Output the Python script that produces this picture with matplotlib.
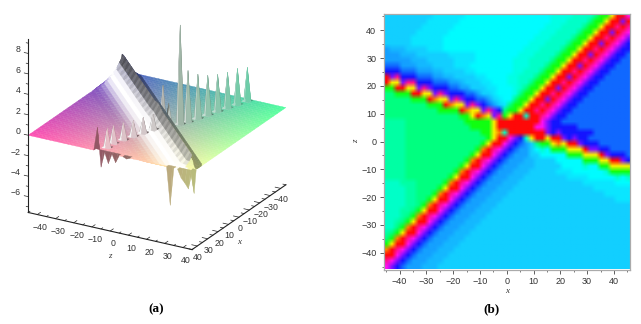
import numpy as np
import matplotlib
matplotlib.use('Agg')
import matplotlib.pyplot as plt
from mpl_toolkits.mplot3d import proj3d
from mpl_toolkits.mplot3d.art3d import Poly3DCollection

# %% panel b: one letter per cell, z = 45 on the first row, x = -45 in the first column
band = 'gyrrmuvb'
beads = 'gorpmuvb'
up = 'nggyrrurpmuvv'
up2 = 'nggyrrprpmuvv'
fall = 'eeehhh'
density_rows = [
    'd'*9 + 'f'*6 + 'c'*16 + 'w'*4 + 't'*4 + 'nggyrrm',
    'd'*8 + 'f'*6 + 'c'*17 + 'www' + 'tttt' + up[:8],
    'd'*7 + 'f'*6 + 'c'*17 + 'www' + 'tttt' + up2[:9],
    'd'*6 + 'f'*6 + 'c'*17 + 'www' + 'tttt' + up[:10],
    'd'*5 + 'f'*6 + 'c'*17 + 'www' + 'tttt' + up2[:11],
    'd'*5 + 'f'*6 + 'c'*16 + 'www' + 'tttt' + up[:12],
    'e' + 'hhh' + 'dddd' + 'fff' + 'c'*15 + 'www' + 'tttt' + up2,
    'eee' + 'hhh' + 'd'*6 + 'f'*5 + 'c'*8 + 'www' + 'tttt' + up + 'b',
    'eeeee' + 'hhh' + 'd'*5 + 'ffff' + 'c'*7 + 'www' + 'tttt' + up2 + 'bb',
    'bbb' + 'eee' + 'hhh' + 'dddd' + 'fff' + 'c'*8 + 'www' + 'ttt' + up + 'b'*3,
    'vvvbbb' + 'eee' + 'hh' + 'dddd' + 'ff' + 'c'*7 + 'ww' + 'ttt' + up2 + 'b'*4,
    'rupvvvbbb' + 'ee' + 'hh' + 'dddd' + 'ff' + 'cccc' + 'ww' + 'ttt' + up + 'b'*5,
    'ryyuppvvvbbb' + 'ee' + 'h' + 'ddd' + 'ff' + 'ccc' + 'ww' + 'tt' + up2 + 'b'*6,
    'ggrryyupuvvvbb' + 'ee' + 'ddd' + 'ff' + 'ccc' + 'w' + 't' + up + 'b'*7,
    'nngggrryyupuvvvbb' + 'e' + 'dd' + 'f' + 'ccc' + 'w' + up2 + 'b'*8,
    'nnnnngggroyyupuvvbbedfcc' + up + 'b'*9,
    'nnnnnnnngggroyyupuvbedf' + up2 + 'b'*10,
    'nnnnnnnnnnggggroyyupuv' + 'nggyrrprpmuvv' + 'b'*11,
    'n'*14 + 'ggyroyup' + 'gyrrtrrpmuvv' + 'b'*12,
    'ssss' + 'n'*11 + 'g'*5 + 'yr' + 'r'*7 + 'muvv' + 'b'*13,
    'ssss' + 'n'*12 + 'gggg' + 'y' + 'r'*7 + 'mmu' + 'vvvvv' + 'b'*10,
    'ssss' + 'n'*14 + 'gg' + 'yo' + 't' + 'r'*7 + 'u' + 'vuvvvvvv' + 'b'*7,
    'ssss' + 'n'*15 + 'gyrrmuv' + 'tyrryrruvuvv' + 'b'*8,
    'ssss' + 'n'*14 + 'gyrrmuvb' + 'ednggyoyrruvvv' + 'b'*6,
    'ssss' + 'n'*13 + 'gorpmuvb' + 'eedctc' + 'ggg' + 'yyy' + 'ruu' + 'vv' + 'b'*4,
    'ssss' + 'n'*12 + band + 'eeedd' + 'c'*5 + 'ggg' + 'yyy' + 'ruvvvb',
    'ssss' + 'n'*11 + beads + 'eeehh' + 'dddd' + 'c'*5 + 'ggg' + 'yy' + 'rruv',
    'ssss' + 'n'*10 + band + fall + 'd'*5 + 'cccc' + 'tcc' + 'gg' + 'yyyy',
    'ssss' + 'n'*9 + beads + fall + 'd'*5 + 'fff' + 'c'*6 + 't' + 'gggg',
    'ssss' + 'n'*8 + band + fall + 'd'*8 + 'ffff' + 'c'*5 + 'tct',
    'ttt' + 'sss' + 'n'*5 + beads + fall + 'd'*12 + 'f'*6 + 'ccc',
    'tttt' + 'ss' + 'nnnn' + band + fall + 'd'*15 + 'f'*7,
    'tttt' + 'ss' + 'nnn' + beads + fall + 'd'*18 + 'f'*5,
    'tttt' + 'ss' + 'nn' + band + fall + 'd'*21 + 'f'*3,
    'tttt' + 'ss' + 'n' + beads + fall + 'd'*25,
    'ttt' + 'ss' + 'n' + band + fall + 'd'*26,
    'ttt' + 's' + 'n' + beads + fall + 'd'*27,
    'tt' + 's' + 'n' + band + fall + 'd'*28,
    'tt' + 'n' + beads + fall + 'd'*29,
    'sn' + band + fall + 'd'*30,
    'n' + beads + fall + 'd'*31,
    band + fall + 'd'*32,
    beads[1:] + fall + 'd'*33,
    band[2:] + fall + 'd'*34,
    beads[3:] + fall + 'd'*35,
    band[4:] + fall + 'd'*36,
]
density_colours = {'c': '#00fcff', 'f': '#0ae6ff', 'd': '#12cfff', 'h': '#14b8ff',
                   'e': '#14a0ff', 'b': '#1068ff', 'v': '#1414ff', 'u': '#8010ff',
                   'm': '#ff10f0', 'p': '#ff1090', 'r': '#ff0808', 'o': '#ff8000',
                   'y': '#f8f000', 'g': '#10ff10', 'n': '#00ff80', 's': '#00ffa4',
                   't': '#00ffc8', 'w': '#00ffe4'}

# %% panel a: heights
ridge_height = [1.6, 1.7, 1.7, 1.7, 1.7, 1.7, 1.7, 1.7, 1.7, 1.7, 1.7, 1.7,
                1.7, 1.7, 1.7, 1.7, 1.7, 1.7, 1.7, 1.7, 1.7, 1.7, 1.8, 1.9,
                1.9, 1.8, 1.7, 1.7, 1.7, 1.7, 1.7, 1.7, 1.7, 1.7, 1.7, 1.7,
                1.7, 1.7, 1.7, 1.7, 1.7, 1.7, 1.7, 1.7, 1.7, 1.7]
ridge_offset = [-5, -4, -3, -2, -1, 0, 1.5, 3, 4.5, 6, 7.5, 9, 10.5, 12, 13.5, 15]
ridge_shape = [0, 0.04, 0.12, 0.3, 0.6, 1.0, 0.62, 0.38, 0.24, 0.15, 0.09, 0.055, 0.03,
               0.015, 0.005, 0]
# how white each strip of the ridge's near face is, crest to foot
ridge_tone = [-0.35, -0.78, 0.92, 1.0, 0.85, 0.6, 0.3, 0.1, 0.0, 0.0]
spike_x = [-43, -37, -31, -25, -19, -13, -7, -3, 3, 1, 9, 15, 21, 27, 33, 39, 45,
           45, 45, 45, 45, 45, 45, 45, 45, 43]
spike_z = [25, 23, 21, 19, 17, 15, 13, 11, 5, 7, 3, 1, -1, -3, -5, -5, -7,
           -5, -1, 3, 9, 33, 39, 41, 43, 45]
spike_h = [3.26, 3.5, 3.47, 3.6, 3.85, 4.3, 5.0, 9.65, 3.95, 2.1, 1.45, 1.5, 1.54,
           1.69, 1.74, 1.87, 2.3, -1.5, -1.0, -0.75, -0.15, -3.7, -0.8, -1.2, -1.7, -2.2]

z_ticks = [-40, -30, -20, -10, 0, 10, 20, 30, 40]
x_ticks = [-40, -30, -20, -10, 0, 10, 20, 30, 40]
h_ticks = [-6, -4, -2, 0, 2, 4, 6, 8]

H_MIN, H_MAX = -7.55, 9.4
ELEV, AZIM = 23.3, 29.8


def sheet_colour(xc, zc):
    # colour of the sheet, running between its four corners
    back = np.array([0.33, 0.35, 0.78])
    left = np.array([1.0, 0.30, 0.70])
    right = np.array([0.30, 1.0, 0.62])
    front = np.array([1.0, 1.0, 0.66])
    a = ((np.asarray(xc) + 45) / 90)[..., None]
    b = ((np.asarray(zc) + 45) / 90)[..., None]
    return (1-a)*(1-b)*back + a*(1-b)*left + (1-a)*b*right + a*b*front


def surface_colours(X, Z, H):
    xc = (X[:-1, :-1] + X[1:, 1:]) / 2
    zc = (Z[:-1, :-1] + Z[1:, 1:]) / 2
    base = sheet_colour(xc, zc)
    sx, sz, sh = 1/90, 1/90, 1/(H_MAX - H_MIN)
    d1 = np.stack([(X[1:, 1:]-X[:-1, :-1])*sx, (Z[1:, 1:]-Z[:-1, :-1])*sz,
                   (H[1:, 1:]-H[:-1, :-1])*sh], axis=-1)
    d2 = np.stack([(X[1:, :-1]-X[:-1, 1:])*sx, (Z[1:, :-1]-Z[:-1, 1:])*sz,
                   (H[1:, :-1]-H[:-1, 1:])*sh], axis=-1)
    n = np.cross(d2, d1)
    n = n * np.sign(n[..., 2:3] + 1e-12)
    n = n / np.linalg.norm(n, axis=-1, keepdims=True)

    e, az = np.radians(ELEV), np.radians(AZIM)
    view = np.array([np.cos(e)*np.cos(az), np.cos(e)*np.sin(az), np.sin(e)])
    lit = (n @ np.array([0.45, -0.25, 0.857]))
    corners = np.stack([H[:-1, :-1], H[1:, :-1], H[:-1, 1:], H[1:, 1:]])
    rgb = base.copy()

    # spike faces: the side towards the light goes white, more so on the x > 0 half
    spiky = np.abs(corners).max(axis=0) > 0
    a = (xc + 45) / 90
    side = np.clip((lit * 1.6 - 0.25) * (0.55 + 0.75 * a), 0, 1)[..., None]
    side_rgb = (base * 0.8 + 0.1) * (1 - side) + 0.96 * side
    rgb[spiky] = side_rgb[spiky]

    under = (n @ view) < 0
    under |= corners.min(axis=0) < -0.1
    edge = np.zeros_like(under)
    edge[-1, :] = True
    under |= edge & (zc < 30) & (np.abs(corners).max(axis=0) > 0.4)
    rgb[under] = base[under] * 0.58
    olive = under & (zc > 20)
    rgb[olive] = base[olive] * 0.74
    return np.clip(rgb, 0, 1)


fig = plt.figure(figsize=(6.41, 3.24), dpi=100)
plt.rcParams['font.family'] = 'Liberation Sans'
w_fig, h_fig = 641, 324

# %% panel a
ax3 = fig.add_axes([3/w_fig, 58/h_fig, 300/w_fig, 300/h_fig], projection='3d',
                   proj_type='ortho')
ax3.computed_zorder = False
ax3.set_axis_off()
ax3.patch.set_alpha(0)
ax3.set_xticks([])
ax3.set_yticks([])
ax3.set_zticks([])
ax3.set_xlim(-45, 45)
ax3.set_ylim(-45, 45)
ax3.set_zlim(H_MIN, H_MAX)
ax3.set_box_aspect((1, 1, 1), zoom=1.058)
ax3.view_init(elev=ELEV, azim=AZIM)

x_nodes = np.arange(-45, 46, 2)
z_nodes = np.arange(-45, 46, 2)
X, Z = np.meshgrid(x_nodes, z_nodes, indexing='ij')
H = np.zeros_like(X, dtype=float)
for sx_, sz_, sh_ in zip(spike_x, spike_z, spike_h):
    H[(sx_ + 45)//2, (sz_ + 45)//2] = sh_

cell_rgb = surface_colours(X, Z, H)
cells = np.stack([np.stack([X[:-1, :-1], Z[:-1, :-1], H[:-1, :-1]], axis=-1),
                  np.stack([X[1:, :-1], Z[1:, :-1], H[1:, :-1]], axis=-1),
                  np.stack([X[1:, 1:], Z[1:, 1:], H[1:, 1:]], axis=-1),
                  np.stack([X[:-1, 1:], Z[:-1, 1:], H[:-1, 1:]], axis=-1)], axis=2)
I, J = np.meshgrid(np.arange(45), np.arange(45), indexing='ij')
cell_d = I - J
raised = (cells[..., 2] != 0).any(axis=2)
in_front = (cell_d >= 15) | (raised & (cell_d > 0))
behind = (cell_d <= 0)

# sheet behind the ridge, then the ridge, then the sheet in front of it
ax3.add_collection3d(Poly3DCollection(cells[behind], facecolors=cell_rgb[behind],
                                      edgecolors=cell_rgb[behind], linewidths=0.25, zorder=1))

strips, strip_rgb = [], []
for i in range(45):
    s0, s1 = -45 + 2*i, -45 + 2*(i + 1)
    for k in range(len(ridge_offset) - 1):
        d0, d1 = ridge_offset[k], ridge_offset[k + 1]
        h0, h1 = ridge_shape[k] * ridge_height[i], ridge_shape[k + 1] * ridge_height[i]
        h2, h3 = ridge_shape[k + 1] * ridge_height[i + 1], ridge_shape[k] * ridge_height[i + 1]
        quad = np.array([[s0 + d0, s0 - d0, h0], [s0 + d1, s0 - d1, h1],
                         [s1 + d1, s1 - d1, h2], [s1 + d0, s1 - d0, h3]], dtype=float)
        quad[:, :2] = np.clip(quad[:, :2], -45, 45)
        base = sheet_colour(quad[:, 0].mean(), quad[:, 1].mean())
        if d0 < 0:
            c = base * 0.6
        else:
            t = ridge_tone[k - 5]
            if t >= 0:
                c = base * (1 - t) + t
            else:
                # grey strips near the crest, paler towards the front end, hatched
                g = -t + 0.55 * (s0 + 45) / 90 * (1 + t) + 0.08 * (i % 2)
                c = min(g, 1) * (0.8 + 0.2 * base)
        strips.append(quad)
        strip_rgb.append(np.clip(c, 0, 1))
ax3.add_collection3d(Poly3DCollection(strips, facecolors=strip_rgb, edgecolors=strip_rgb,
                                      linewidths=0.25, zorder=2))
ax3.add_collection3d(Poly3DCollection(cells[in_front], facecolors=cell_rgb[in_front],
                                      edgecolors=cell_rgb[in_front], linewidths=0.25, zorder=3))
ax3.set_xlim(-45, 45)
ax3.set_ylim(-45, 45)
ax3.set_zlim(H_MIN, H_MAX)


def label3d(x, z, h, s, **kw):
    px, py, _ = proj3d.proj_transform(x, z, h, ax3.get_proj())
    ax3.text2D(px, py, s, transform=ax3.transData, va='center', color=lab_c, **kw)


axis_c = '#222222'
lab_c = '#333333'
ax3.plot([45, 45], [-45, 45], [H_MIN, H_MIN], color=axis_c, lw=0.8, zorder=4)
ax3.plot([45, -45], [45, 45], [H_MIN, H_MIN], color=axis_c, lw=0.8, zorder=4)
ax3.plot([45, 45], [-45, -45], [H_MIN, H_MAX], color=axis_c, lw=0.8, zorder=4)
for v in np.arange(-45, 46, 5):
    size = 3 if v % 10 == 0 else 1.6
    ax3.plot([45, 45 - size], [v, v], [H_MIN, H_MIN], color=axis_c, lw=0.5, zorder=4)
    ax3.plot([v, v], [45, 45 - size], [H_MIN, H_MIN], color=axis_c, lw=0.5, zorder=4)
for v in np.arange(-7, 10):
    size = 2.2 if v % 2 == 0 else 1.1
    ax3.plot([45, 45], [-45, -45 - size], [v, v], color=axis_c, lw=0.5, zorder=4)
for t in z_ticks:
    label3d(45, t + 1.6, H_MIN - 1.2, str(t).replace('-', '\u2212'), fontsize=6.3, ha='center')
for t in x_ticks:
    label3d(t, 45.5, H_MIN - 1.1, str(t).replace('-', '\u2212'), fontsize=6.3, ha='center')
for t in h_ticks:
    label3d(45, -49, t + 0.2, str(t).replace('-', '\u2212'), fontsize=6.3, ha='right')
label3d(45, 0, H_MIN - 2.45, 'z', fontsize=6.5, style='italic', family='Liberation Serif', ha='center')
label3d(0, 45, H_MIN - 2.45, 'x', fontsize=6.5, style='italic', family='Liberation Serif', ha='center')

# %% panel b
ax = fig.add_axes([383.5/w_fig, 1 - 269.5/h_fig, 246.5/w_fig, 256/h_fig])
rgb = np.array([[matplotlib.colors.to_rgb(density_colours[ch]) for ch in row]
                for row in density_rows])
ax.imshow(rgb, extent=[-46, 46, -46, 46], aspect='auto', interpolation='bilinear')
ax.set_xticks(x_ticks)
ax.set_yticks(x_ticks)
ax.set_xticklabels([str(t).replace('-', '\u2212') for t in x_ticks])
ax.set_yticklabels([str(t).replace('-', '\u2212') for t in x_ticks])
ax.set_xticks(np.arange(-45, 46, 5), minor=True)
ax.set_yticks(np.arange(-45, 46, 5), minor=True)
ax.tick_params(which='major', length=3.2, width=0.6, labelsize=6.5, color='#444444',
               labelcolor=lab_c, pad=2)
ax.tick_params(which='minor', length=1.6, width=0.5, color='#444444')
for s in ax.spines.values():
    s.set_color('#aaaaaa')
    s.set_linewidth(0.9)
ax.set_xlabel('x', fontsize=6.5, style='italic', family='Liberation Serif', color=lab_c, labelpad=1)
ax.set_ylabel('z', fontsize=6.5, style='italic', family='Liberation Serif', color=lab_c, labelpad=1)

fig.text(156/w_fig, 1 - 309/h_fig, '(a)', fontsize=9.5, weight='bold', family='Liberation Serif',
         ha='center', va='center')
fig.text(491/w_fig, 1 - 309/h_fig, '(b)', fontsize=9.5, weight='bold', family='Liberation Serif',
         ha='center', va='center')

fig.savefig('out.png', dpi=100)
